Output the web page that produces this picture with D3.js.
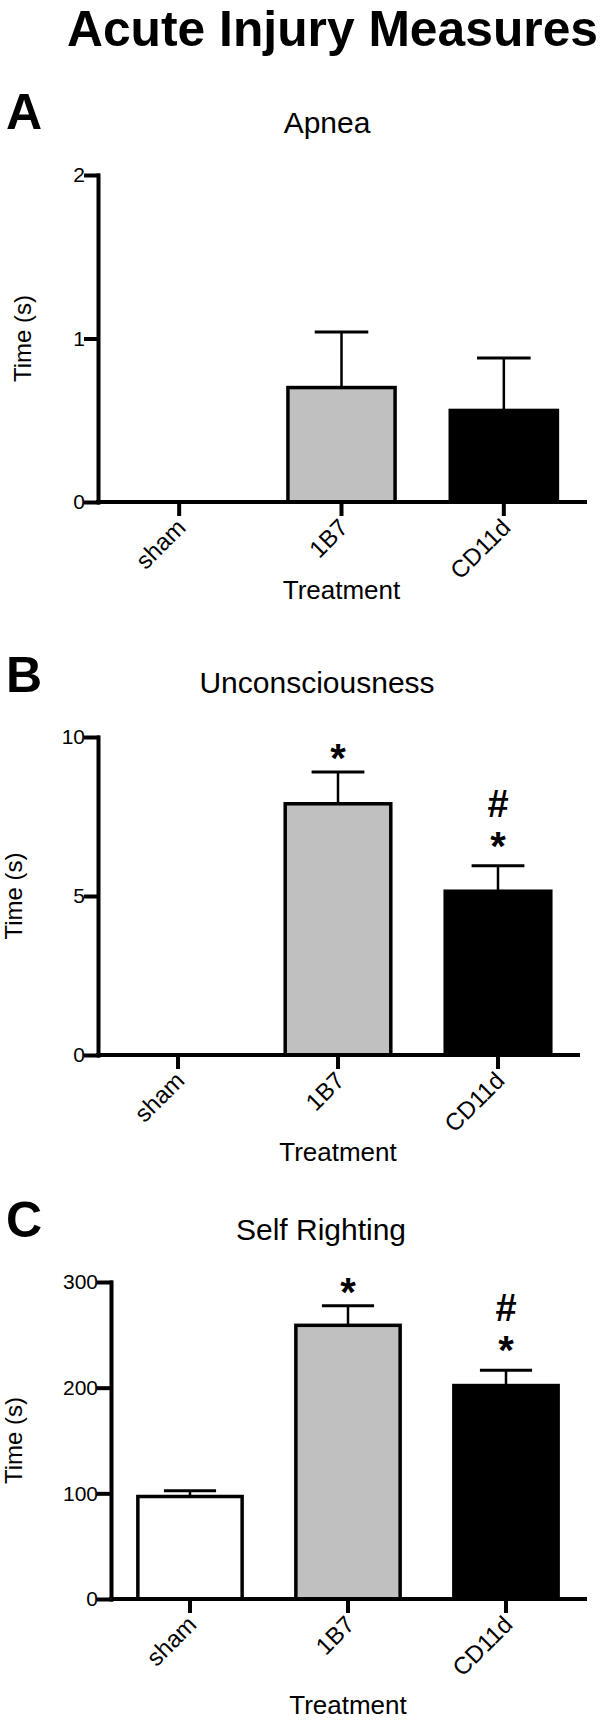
<!DOCTYPE html>
<html>
<head>
<meta charset="utf-8">
<script src="https://cdn.jsdelivr.net/npm/d3@7"></script>
<style>
  body { margin: 0; background: #fff; }
  svg { display: block; font-family: "Liberation Sans", Arial, Helvetica, sans-serif; }
</style>
</head>
<body>
<div id="chart"></div>
<script>
// groups + bar fills
var groups = ["sham", "1B7", "CD11d"];
var fills = ["#ffffff", "#c0c0c0", "#000000"];

// A - apnea (s)
var apneaMean = [0, 0.70, 0.56];
var apneaSem = [0, 0.34, 0.32];
var apneaTicks = [0, 1, 2];

// B - unconsciousness (s)
var unconMean = [0, 7.9, 5.15];
var unconSem = [0, 1.0, 0.8];
var unconTicks = [0, 5, 10];
var unconStar = ["", "*", "*"];
var unconHash = ["", "", "#"];

// C - self righting (s)
var rightMean = [97, 259, 202];
var rightSem = [5.5, 18.5, 14.5];
var rightTicks = [0, 100, 200, 300];
var rightStar = ["", "*", "*"];
var rightHash = ["", "", "#"];

var width = 600, height = 1720;

var svg = d3.select("#chart")
  .append("svg")
    .attr("width", width)
    .attr("height", height);

svg.append("text")
  .attr("x", 67)
  .attr("y", 46)
  .attr("textLength", 531)
  .attr("lengthAdjust", "spacingAndGlyphs")
  .style("font-size", "50px")
  .style("font-weight", "bold")
  .text("Acute Injury Measures");

function drawPanel(p) {
  var g = svg.append("g");

  // letter + title
  g.append("text")
    .attr("x", 6).attr("y", p.letterY)
    .style("font-size", "50px").style("font-weight", "bold")
    .text(p.letter);
  g.append("text")
    .attr("x", p.titleX).attr("y", p.titleY)
    .attr("text-anchor", "middle")
    .style("font-size", "30px")
    .text(p.title);

  var x = d3.scaleBand()
    .domain(groups)
    .range([p.left, p.right])
    .paddingInner(0.34)
    .paddingOuter(0.17);

  var y = d3.scaleLinear()
    .domain([0, d3.max(p.ticks)])
    .range([p.bottom, p.top]);

  var rows = groups.map(function(k, i) {
    return {key: k, mean: p.mean[i], sem: p.sem[i], fill: fills[i],
            star: p.star ? p.star[i] : "", hash: p.hash ? p.hash[i] : ""};
  });

  // error bars (upper only)
  var err = g.selectAll(".err")
    .data(rows.filter(function(d) { return d.sem > 0; }))
    .enter().append("g");
  err.append("line")
    .attr("x1", function(d) { return x(d.key) + x.bandwidth() / 2; })
    .attr("x2", function(d) { return x(d.key) + x.bandwidth() / 2; })
    .attr("y1", function(d) { return y(d.mean); })
    .attr("y2", function(d) { return y(d.mean + d.sem); })
    .attr("stroke", "#000").attr("stroke-width", 2.5);
  err.append("line")
    .attr("x1", function(d) { return x(d.key) + x.bandwidth() / 4; })
    .attr("x2", function(d) { return x(d.key) + x.bandwidth() * 3 / 4; })
    .attr("y1", function(d) { return y(d.mean + d.sem); })
    .attr("y2", function(d) { return y(d.mean + d.sem); })
    .attr("stroke", "#000").attr("stroke-width", 3);

  // bars
  g.selectAll(".bar")
    .data(rows.filter(function(d) { return d.mean > 0; }))
    .enter().append("rect")
      .attr("x", function(d) { return x(d.key); })
      .attr("width", x.bandwidth())
      .attr("y", function(d) { return y(d.mean); })
      .attr("height", function(d) { return y(0) - y(d.mean); })
      .attr("fill", function(d) { return d.fill; })
      .attr("stroke", "#000")
      .attr("stroke-width", 3.5);

  // significance marks: * just above the cap, # stacked over it
  var marks = rows.filter(function(d) { return d.star; });
  g.selectAll(".star")
    .data(marks)
    .enter().append("text")
      .attr("x", function(d) { return x(d.key) + x.bandwidth() / 2; })
      .attr("y", function(d) { return y(d.mean + d.sem) - (d.hash ? 6 : 0); })
      .attr("text-anchor", "middle")
      .style("font-size", "40px").style("font-weight", "bold")
      .text(function(d) { return d.star; });
  g.selectAll(".hash")
    .data(marks.filter(function(d) { return d.hash; }))
    .enter().append("text")
      .attr("x", function(d) { return x(d.key) + x.bandwidth() / 2; })
      .attr("y", function(d) { return y(d.mean + d.sem) - 49; })
      .attr("text-anchor", "middle")
      .style("font-size", "38px").style("font-weight", "bold")
      .text(function(d) { return d.hash; });

  // axes
  var yAxis = g.append("g")
    .attr("transform", "translate(" + p.left + ",0)")
    .call(d3.axisLeft(y).tickValues(p.ticks).tickSize(12).tickSizeOuter(0).tickFormat(d3.format("d")));
  var xAxis = g.append("g")
    .attr("transform", "translate(0," + p.bottom + ")")
    .call(d3.axisBottom(x).tickSize(12).tickSizeOuter(0));
  xAxis.select(".domain").attr("d", "M" + p.left + ",0H" + p.right);

  [yAxis, xAxis].forEach(function(a) {
    a.selectAll(".domain, .tick line")
      .attr("stroke", "#000")
      .attr("stroke-width", 4)
      .attr("stroke-linecap", "square");
    a.selectAll("text")
      .attr("fill", "#000")
      .style("font-family", '"Liberation Sans", Arial, sans-serif')
      .style("font-size", "21px");
  });
  yAxis.selectAll(".tick text").attr("x", -13);
  xAxis.selectAll(".tick text")
    .attr("text-anchor", "end")
    .attr("dy", null)
    .attr("y", 0)
    .style("font-size", "24px")
    .attr("transform", "translate(8,27) rotate(-45)");

  // axis titles
  g.append("text")
    .attr("transform", "translate(" + p.yTitleX + "," + (p.top + p.bottom) / 2 + ") rotate(-90)")
    .attr("text-anchor", "middle")
    .style("font-size", "24px")
    .text("Time (s)");
  g.append("text")
    .attr("x", (p.left + p.right) / 2)
    .attr("y", p.bottom + p.xTitleDy)
    .attr("text-anchor", "middle")
    .style("font-size", "26px")
    .text("Treatment");
}

drawPanel({letter: "A", title: "Apnea", mean: apneaMean, sem: apneaSem, ticks: apneaTicks,
  top: 175, bottom: 502, left: 98, right: 585, letterY: 129, titleX: 327, titleY: 133,
  yTitleX: 31, xTitleDy: 97});
drawPanel({letter: "B", title: "Unconsciousness", mean: unconMean, sem: unconSem, ticks: unconTicks,
  star: unconStar, hash: unconHash,
  top: 737, bottom: 1055, left: 98, right: 578, letterY: 692, titleX: 317, titleY: 693,
  yTitleX: 22, xTitleDy: 106});
drawPanel({letter: "C", title: "Self Righting", mean: rightMean, sem: rightSem, ticks: rightTicks,
  star: rightStar, hash: rightHash,
  top: 1282, bottom: 1599, left: 111, right: 585, letterY: 1237, titleX: 321, titleY: 1240,
  yTitleX: 22, xTitleDy: 115});
</script>
</body>
</html>
